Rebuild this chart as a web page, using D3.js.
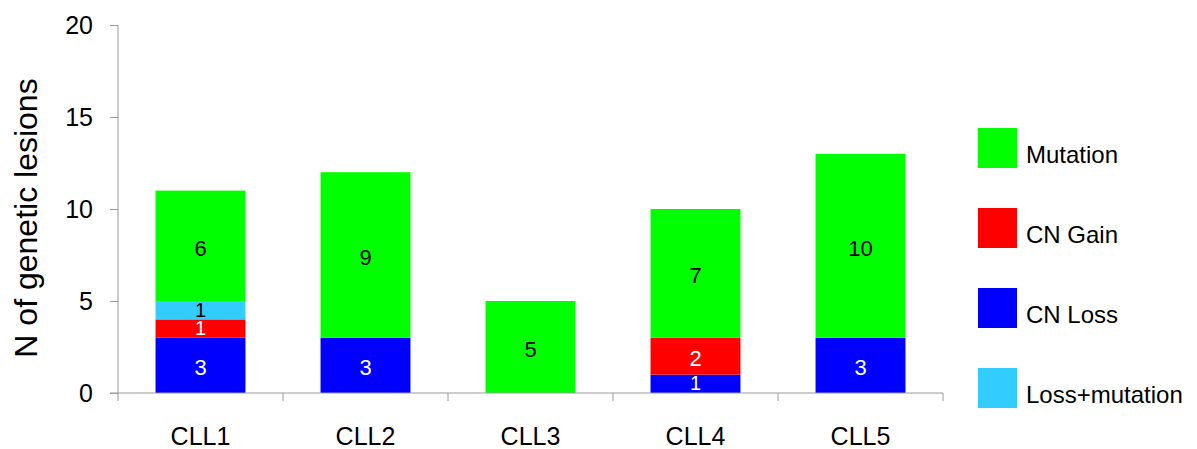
<!DOCTYPE html>
<html>
<head>
<meta charset="utf-8">
<script src="https://cdn.jsdelivr.net/npm/d3@7"></script>
<style>
  html, body { margin: 0; padding: 0; background: #fff; }
  svg { display: block; font-family: "Liberation Sans", Arial, sans-serif; }
</style>
</head>
<body>
<svg id="chart" width="1197" height="449"></svg>
<script>
// Samples and lesion counts per type (stacked bottom to top: loss, gain, loss+mutation, mutation)
const samples = ["CLL1", "CLL2", "CLL3", "CLL4", "CLL5"];
const cnLoss = [3, 3, 0, 1, 3];
const cnGain = [1, 0, 0, 2, 0];
const lossMutation = [1, 0, 0, 0, 0];
const mutation = [6, 9, 5, 7, 10];
const yTicks = [0, 5, 10, 15, 20];

const seriesKeys = ["CN Loss", "CN Gain", "Loss+mutation", "Mutation"];
const seriesColors = { "Mutation": "#00ff00", "CN Gain": "#ff0000", "CN Loss": "#0000ff", "Loss+mutation": "#33ccff" };
const labelColors = { "Mutation": "#000", "CN Gain": "#fff", "CN Loss": "#fff", "Loss+mutation": "#000" };
const legendOrder = ["Mutation", "CN Gain", "CN Loss", "Loss+mutation"];

const rows = samples.map((s, i) => ({
  sample: s,
  "CN Loss": cnLoss[i],
  "CN Gain": cnGain[i],
  "Loss+mutation": lossMutation[i],
  "Mutation": mutation[i]
}));

const svg = d3.select("#chart");
const axisColor = "#999";

const x = d3.scaleBand().domain(samples).range([118, 943]).padding(0);
const y = d3.scaleLinear().domain([0, 20]).range([393, 25]);
const barW = x.bandwidth() * 0.545;

const stack = d3.stack().keys(seriesKeys)(rows);

// Stacked bars
const layers = svg.append("g").selectAll("g").data(stack).join("g")
  .attr("fill", d => seriesColors[d.key]);

layers.selectAll("rect").data(d => d.filter(p => p[1] - p[0] > 0)).join("rect")
  .attr("x", d => x(d.data.sample) + (x.bandwidth() - barW) / 2)
  .attr("y", d => y(d[1]))
  .attr("width", barW)
  .attr("height", d => y(d[0]) - y(d[1]));

// Segment value labels; thin segments get a slightly smaller font
stack.forEach(layer => {
  svg.append("g").selectAll("text").data(layer.filter(p => p[1] - p[0] > 0)).join("text")
    .attr("x", d => x(d.data.sample) + x.bandwidth() / 2)
    .attr("y", d => (y(d[0]) + y(d[1])) / 2)
    .attr("dy", d => (y(d[0]) - y(d[1]) < 20 ? "0.33em" : "0.45em"))
    .attr("text-anchor", "middle")
    .attr("font-size", d => (y(d[0]) - y(d[1]) < 20 ? 20 : 22))
    .attr("fill", labelColors[layer.key])
    .text(d => d[1] - d[0]);
});

// Y axis
const yAxis = svg.append("g").attr("transform", "translate(118,0)")
  .call(d3.axisLeft(y).tickValues(yTicks).tickSize(8).tickPadding(17));
yAxis.select(".domain").attr("stroke", axisColor).attr("d", "M0,25V393");
yAxis.selectAll(".tick line").attr("stroke", axisColor);
yAxis.selectAll(".tick text").attr("font-size", 25).attr("fill", "#000")
  .attr("font-family", "Liberation Sans, Arial, sans-serif");

// X axis with boundary ticks between categories
const xAxisG = svg.append("g").attr("transform", "translate(0,393)");
xAxisG.append("line").attr("x1", 110).attr("x2", 943).attr("y1", 0).attr("y2", 0)
  .attr("stroke", axisColor);
const bounds = samples.map(s => x(s)).concat([x.range()[1]]);
xAxisG.selectAll("line.b").data(bounds).join("line").attr("class", "b")
  .attr("x1", d => d).attr("x2", d => d).attr("y1", 0).attr("y2", 8)
  .attr("stroke", axisColor);
xAxisG.selectAll("text").data(samples).join("text")
  .attr("x", d => x(d) + x.bandwidth() / 2)
  .attr("y", 52)
  .attr("text-anchor", "middle")
  .attr("font-size", 25)
  .attr("fill", "#000")
  .text(d => d);

// Y axis title
svg.append("text")
  .attr("transform", "translate(37,218) rotate(-90)")
  .attr("text-anchor", "middle")
  .attr("font-size", 32)
  .attr("fill", "#000")
  .text("N of genetic lesions");

// Legend
const legend = svg.append("g").selectAll("g").data(legendOrder).join("g")
  .attr("transform", (d, i) => `translate(978,${128 + i * 80})`);
legend.append("rect").attr("width", 39).attr("height", 40)
  .attr("fill", d => seriesColors[d]);
legend.append("text").attr("x", 48).attr("y", 26).attr("dy", "0.36em")
  .attr("font-size", 24).attr("fill", "#000").text(d => d);
</script>
</body>
</html>
